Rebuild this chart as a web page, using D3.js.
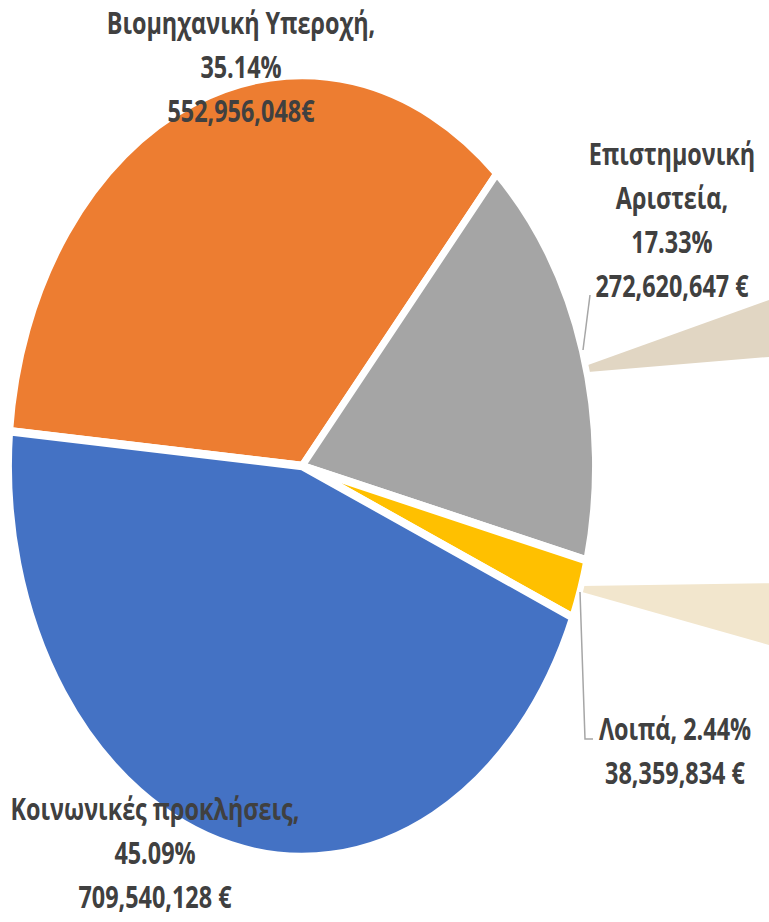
<!DOCTYPE html>
<html>
<head>
<meta charset="utf-8">
<script src="https://cdn.jsdelivr.net/npm/d3@7"></script>
<style>
  html, body { margin: 0; padding: 0; background: #ffffff; }
  svg { display: block; }
</style>
</head>
<body>
<svg id="chart" width="769" height="922"></svg>
<script>
// ---- data ----
const categories = ["Βιομηχανική Υπεροχή", "Επιστημονική Αριστεία", "Λοιπά", "Κοινωνικές προκλήσεις"];
const amounts = [552956048, 272620647, 38359834, 709540128];
const percentLabels = ["35.14%", "17.33%", "2.44%", "45.09%"];
const amountLabels = ["552,956,048€", "272,620,647 €", "38,359,834 €", "709,540,128 €"];
const labelLines = [
  ["Βιομηχανική Υπεροχή,", "35.14%", "552,956,048€"],
  ["Επιστημονική", "Αριστεία,", "17.33%", "272,620,647 €"],
  ["Λοιπά, 2.44%", "38,359,834 €"],
  ["Κοινωνικές προκλήσεις,", "45.09%", "709,540,128 €"]
];

// ---- layout / style ----
const colors = ["#ED7D31", "#A5A5A5", "#FFC000", "#4472C4"];
const sx = 0.75;                 // horizontal compression of the pie
const tsx = 0.78;                // horizontal compression of the labels
const cx = 302, cy = 466, R = 391;
const startDeg = -84.9;
const labelPos = [
  { x: 241, y: 34 },
  { x: 672, y: 165 },
  { x: 675, y: 740 },
  { x: 155, y: 820 }
];
const lineGap = 44;
const fontSize = 30;
const leaders = [
  [[590, 295], [583, 350]],
  [[580, 592], [585, 739], [593, 739]]
];
const connectors = [
  { pts: [[588, 365], [780, 296], [780, 356], [588, 372]], fill: "#E1D6C3" },
  { pts: [[582, 586], [780, 583], [780, 648], [582, 592]], fill: "#F2E6CD" }
];

const svg = d3.select("#chart");

// connectors (partial second plot, cut off at the right edge)
svg.append("g").selectAll("polygon").data(connectors).join("polygon")
  .attr("points", d => d.pts.map(p => p.join(",")).join(" "))
  .attr("fill", d => d.fill);

const g = svg.append("g").attr("transform", `scale(${sx},1)`);

const pie = d3.pie().sort(null).value(d => d)
  .startAngle(startDeg * Math.PI / 180)
  .endAngle(startDeg * Math.PI / 180 + 2 * Math.PI);
const arc = d3.arc().innerRadius(0).outerRadius(R);

g.append("g").attr("transform", `translate(${cx / sx},${cy})`)
  .selectAll("path").data(pie(amounts)).join("path")
  .attr("d", arc)
  .attr("fill", (d, i) => colors[i])
  .attr("stroke", "#ffffff")
  .attr("stroke-width", 8.5)
  .attr("stroke-linejoin", "miter");

// leader lines
svg.append("g").selectAll("polyline").data(leaders).join("polyline")
  .attr("points", d => d.map(p => p.join(",")).join(" "))
  .attr("fill", "none")
  .attr("stroke", "#A6A6A6")
  .attr("stroke-width", 1.5);

// labels
const lg = svg.append("g")
  .attr("transform", `scale(${tsx},1)`)
  .attr("font-family", "'Open Sans', 'Noto Sans', sans-serif")
  .attr("font-weight", 700)
  .attr("font-size", fontSize)
  .attr("fill", "#404040")
  .attr("text-anchor", "middle");

labelLines.forEach((lines, i) => {
  const t = lg.append("text")
    .attr("x", labelPos[i].x / tsx)
    .attr("y", labelPos[i].y);
  lines.forEach((ln, j) => {
    t.append("tspan")
      .attr("x", labelPos[i].x / tsx)
      .attr("y", labelPos[i].y + j * lineGap)
      .text(ln);
  });
});
</script>
</body>
</html>
